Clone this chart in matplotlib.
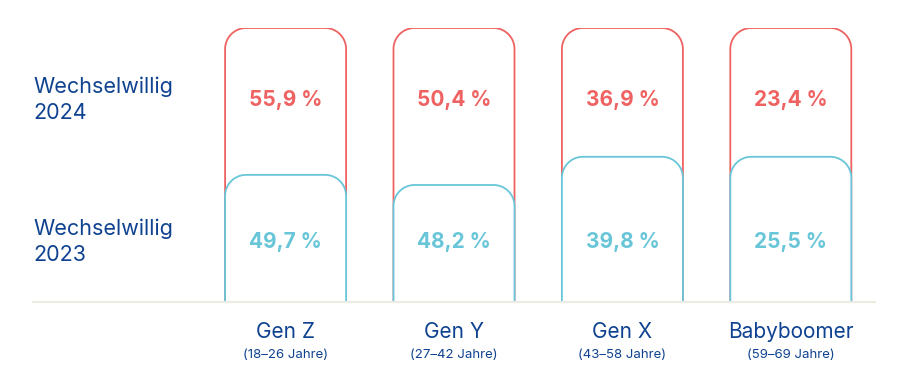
import numpy as np
import matplotlib.pyplot as plt

plt.rcParams['font.family'] = ['Inter', 'DejaVu Sans']

# data
generations = ["Gen Z", "Gen Y", "Gen X", "Babyboomer"]
age_ranges = ["(18–26 Jahre)", "(27–42 Jahre)", "(43–58 Jahre)", "(59–69 Jahre)"]
share_2024 = ["55,9 %", "50,4 %", "36,9 %", "23,4 %"]
share_2023 = ["49,7 %", "48,2 %", "39,8 %", "25,5 %"]
# box heights as drawn in the graphic (red box = 100)
box_2024 = [100, 100, 100, 100]
box_2023 = [46.4, 42.7, 53.0, 53.0]
row_labels = ["Wechselwillig\n2024", "Wechselwillig\n2023"]

RED = "#ef6262"
BLUE = "#68c6d8"
NAVY = "#0f4290"
BASE = "#ecebe2"

W, H = 908, 390
fig = plt.figure(figsize=(W / 100, H / 100), dpi=100)
ax = fig.add_axes([33 / W, 88 / H, 842 / W, 274 / H])
ax.set_xlim(-1.5, 3.5)
ax.set_ylim(0, 100)
ax.axis("off")

# keep corners round despite unequal axis scaling
px_x = 842 / 5.0
px_y = 274 / 100.0
radius = 21
rx, ry = radius / px_x, radius / px_y
bar_w = 121 / px_x


def rounded_top(x, height, color, z):
    x0, x1 = x - bar_w / 2, x + bar_w / 2
    t = np.linspace(np.pi, np.pi / 2, 20)
    left_arc = np.c_[x0 + rx + rx * np.cos(t), height - ry + ry * np.sin(t)]
    t = np.linspace(np.pi / 2, 0, 20)
    right_arc = np.c_[x1 - rx + rx * np.cos(t), height - ry + ry * np.sin(t)]
    pts = np.vstack([[x0, 0], left_arc, right_arc, [x1, 0]])
    ax.fill(pts[:, 0], pts[:, 1], color="white", lw=0, zorder=z)
    ax.plot(pts[:, 0], pts[:, 1], color=color, lw=1.3, zorder=z + 0.5,
            solid_capstyle="butt")


for i in range(len(generations)):
    rounded_top(i, box_2024[i], RED, 2)
    rounded_top(i, box_2023[i], BLUE, 3)
    ax.text(i, 73.7, share_2024[i], ha="center", va="center", color=RED,
            fontsize=15, fontweight="bold", zorder=5)
    ax.text(i, 21.9, share_2023[i], ha="center", va="center", color=BLUE,
            fontsize=15, fontweight="bold", zorder=5)
    ax.text(i, -10.8, generations[i], ha="center", va="center", color=NAVY,
            fontsize=15, clip_on=False)
    ax.text(i, -19.2, age_ranges[i], ha="center", va="center", color=NAVY,
            fontsize=9.5, clip_on=False)

ax.plot([-1.5, 3.5], [0, 0], color=BASE, lw=1.5, zorder=6, clip_on=False)

ax.text(-1.5, 73.7, row_labels[0], ha="left", va="center", color=NAVY,
        fontsize=15.5, linespacing=1.38)
ax.text(-1.5, 21.9, row_labels[1], ha="left", va="center", color=NAVY,
        fontsize=15.5, linespacing=1.38)

fig.savefig("out.png", dpi=100)
